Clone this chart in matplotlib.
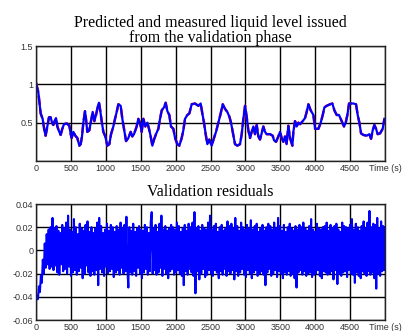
import numpy as np
import matplotlib
matplotlib.use("Agg")
import matplotlib.pyplot as plt

# ---- data: liquid level ----
level_time = [0, 33, 67, 95, 120, 138, 162, 186, 210, 230, 248, 267, 287, 306, 325, 353, 377, 401, 440, 478,
              497, 511, 535, 563, 592, 621, 640, 659, 678, 702, 716, 735, 764, 788, 812, 836, 860, 888, 903, 917,
              941, 965, 993, 1022, 1051, 1075, 1108, 1132, 1156, 1180, 1213, 1237, 1261, 1290, 1323, 1356, 1380,
              1404, 1442, 1466, 1490, 1514, 1538, 1567, 1595, 1619, 1643, 1667, 1691, 1719, 1753, 1777, 1801,
              1834, 1858, 1882, 1910, 1934, 1968, 1992, 2025, 2054, 2087, 2111, 2135, 2168, 2197, 2230, 2278,
              2326, 2359, 2383, 2407, 2431, 2455, 2483, 2517, 2550, 2579, 2612, 2646, 2675, 2708, 2741, 2770,
              2794, 2818, 2851, 2885, 2923, 2947, 2971, 2995, 3018, 3042, 3066, 3090, 3114, 3138, 3162, 3186,
              3209, 3233, 3257, 3281, 3305, 3353, 3391, 3410, 3439, 3472, 3496, 3520, 3544, 3568, 3591, 3615,
              3639, 3673, 3687, 3711, 3735, 3759, 3783, 3821, 3854, 3878, 3902, 3936, 3974, 3998, 4046, 4079,
              4108, 4132, 4165, 4213, 4246, 4275, 4308, 4341, 4365, 4389, 4413, 4437, 4461, 4485, 4547, 4585,
              4609, 4633, 4657, 4690, 4738, 4776, 4800, 4824, 4848, 4872, 4895, 4929, 4967, 4991]
measured_level = [1.02, 0.90, 0.62, 0.55, 0.40, 0.33, 0.45, 0.57, 0.57, 0.50, 0.47, 0.52, 0.56, 0.45, 0.40, 0.34,
                  0.42, 0.48, 0.49, 0.46, 0.35, 0.30, 0.38, 0.33, 0.30, 0.20, 0.22, 0.32, 0.50, 0.65, 0.55, 0.38,
                  0.40, 0.52, 0.64, 0.52, 0.60, 0.72, 0.76, 0.68, 0.52, 0.38, 0.32, 0.20, 0.22, 0.35, 0.45, 0.55,
                  0.64, 0.74, 0.72, 0.55, 0.42, 0.26, 0.30, 0.38, 0.32, 0.35, 0.45, 0.55, 0.50, 0.38, 0.55, 0.45,
                  0.50, 0.42, 0.32, 0.20, 0.28, 0.35, 0.42, 0.55, 0.66, 0.70, 0.76, 0.65, 0.60, 0.45, 0.42, 0.30,
                  0.22, 0.20, 0.30, 0.40, 0.55, 0.60, 0.62, 0.74, 0.75, 0.72, 0.75, 0.62, 0.50, 0.35, 0.22, 0.28,
                  0.20, 0.30, 0.38, 0.50, 0.62, 0.74, 0.68, 0.64, 0.58, 0.50, 0.38, 0.22, 0.20, 0.22, 0.35, 0.55,
                  0.72, 0.58, 0.40, 0.30, 0.38, 0.45, 0.35, 0.47, 0.32, 0.28, 0.36, 0.45, 0.38, 0.35, 0.35, 0.33,
                  0.27, 0.25, 0.32, 0.38, 0.30, 0.25, 0.32, 0.22, 0.46, 0.30, 0.20, 0.38, 0.52, 0.45, 0.50, 0.48,
                  0.52, 0.56, 0.64, 0.74, 0.66, 0.60, 0.42, 0.42, 0.50, 0.60, 0.70, 0.72, 0.74, 0.75, 0.66, 0.60,
                  0.60, 0.55, 0.50, 0.45, 0.50, 0.60, 0.75, 0.75, 0.74, 0.60, 0.50, 0.36, 0.34, 0.33, 0.35, 0.29,
                  0.40, 0.47, 0.42, 0.35, 0.36, 0.42, 0.55]
predicted_level = list(measured_level)

# ---- data: validation residuals (x 0.001) ----
residual_milli = [
    -44, -39, -42, -31, -36, -22, -28, -8, -20, 6, -15, 14, -12, 18, -16, 20, -14, 28, -17, 19,
    -13, 21, -19, 17, -21, 15, -12, 22, -18, 19, -16, 24, -20, 30, -14, 18, -22, 16, -19, 27,
    -17, 20, -21, 14, -18, 23, -15, 19, -24, 17, -20, 22, -13, 25, -19, 16, -22, 20, -18, 15,
    -21, 19, -17, 24, -30, 28, -16, 21, -19, 15, -22, 18, -14, 23, -20, 17, -18, 22, -16, 20,
    -23, 16, -19, 21, -17, 18, -21, 24, -15, 19, -20, 22, -18, 29, -16, -32, 20, -19, 17, -21,
    23, -18, 16, -22, 19, -15, 21, -20, 18, -24, 17, -19, 22, -16, 20, -21, 15, -18, 24, 33,
    -20, 19, -17, 22, -21, 16, -19, 23, -15, 30, -22, 18, -16, 21, -20, 17, -24, 19, -18, 22,
    -16, 20, -21, 18, -19, 24, -17, 21, -20, 16, -22, 19, -30, 22, -18, 17, -21, 23, -16, 20,
    -19, 24, -22, 33, -37, 19, -18, 21, -25, 17, -20, 22, -16, 19, -23, 18, -21, 24, -17, 30,
    -20, 18, -22, 21, -17, 23, -19, 16, -24, 20, -18, 22, -21, 17, -16, 19, -22, 25, -18, 21,
    -20, 23, -17, 19, -25, 28, -18, 21, -22, 17, -19, 24, -16, 20, -21, 18, -23, 22, -17, 19,
    -20, 26, -24, 18, -19, 21, -17, 23, -22, 16, -20, 19, -18, 22, -21, 17, -30, 20, -19, 23,
    -16, 21, -22, 18, -20, 24, -17, 19, -23, 28, -18, 21, -20, 17, -24, 22, -19, 16, -21, 20,
    -18, 23, -22, 19, -20, 17, -24, 21, -32, 18, -19, 22, -17, 20, -21, 24, -18, 19, -22, 17,
    -20, 21, -19, 27, -23, 18, -21, 16, -20, 23, -17, 19, -22, 18, -24, 20, -18, 21, -19, 24,
    -21, 17, -20, 22, -18, 19, -25, 21, -17, 23, -29, 18, -20, 16, -22, 24, -19, 21, -18, 20,
    -23, 19, -17, 22, -20, 27, -21, 18, -28, 23, -19, 20, -22, 17, -24, 21, -18, 25, -20, 19,
    -22, 24, -18, 34, -21, 20, -19, 23, -24, 22, -33, 28, -20, 19, -22, 25, -18, 21, -17, 20,
]
residual_time = np.linspace(0, 5000, len(residual_milli))
residuals = np.array(residual_milli) / 1000.0

x_ticks = [0, 500, 1000, 1500, 2000, 2500, 3000, 3500, 4000, 4500, 5000]
x_tick_labels = ["0", "500", "1000", "1500", "2000", "2500", "3000", "3500", "4000", "4500", "Time (s)"]
top_y_ticks = [0, 0.5, 1, 1.5]
top_y_labels = ["", "0.5", "1", "1.5"]
bot_y_ticks = [-0.06, -0.04, -0.02, 0, 0.02, 0.04]
bot_y_labels = ["-0.06", "-0.04", "-0.02", "0", "0.02", "0.04"]

title_top = "Predicted and measured liquid level issued\nfrom the validation phase"
title_bot = "Validation residuals"

# ---- figure ----
fig = plt.figure(figsize=(4.08, 3.31), dpi=100)
fig.patch.set_facecolor("white")

ax1 = fig.add_axes([36 / 408, 1 - 161 / 331, 349 / 408, 115 / 331])
ax2 = fig.add_axes([36 / 408, 1 - 320 / 331, 349 / 408, 116 / 331])

tick_font = dict(family="Liberation Sans", size=6.5, color="#333333")

def style(ax, yt, yl):
    ax.set_xlim(0, 5000)
    ax.set_xticks(x_ticks)
    ax.set_xticklabels(x_tick_labels, **tick_font)
    ax.set_yticks(yt)
    ax.set_yticklabels(yl, **tick_font)
    ax.set_ylim(yt[0], yt[-1])
    ax.tick_params(length=0, pad=2)
    ax.grid(True, color="black", linewidth=1.0)
    ax.set_axisbelow(True)
    for s in ax.spines.values():
        s.set_color("#222222")
        s.set_linewidth(1.0)
        s.set_zorder(5)

ax1.plot(level_time, predicted_level, color="red", linestyle="--", linewidth=1.8, zorder=2)
ax1.plot(level_time, measured_level, color="blue", linewidth=1.6, zorder=3)
style(ax1, top_y_ticks, top_y_labels)
ax1.set_title(title_top, family="Liberation Serif", fontsize=11.5, pad=1, linespacing=0.92)

ax2.plot(residual_time, residuals, color="blue", linewidth=1.5, zorder=3)
style(ax2, bot_y_ticks, bot_y_labels)
ax2.set_title(title_bot, family="Liberation Serif", fontsize=11.5, pad=6)

fig.savefig("out.png", dpi=100, facecolor="white")
